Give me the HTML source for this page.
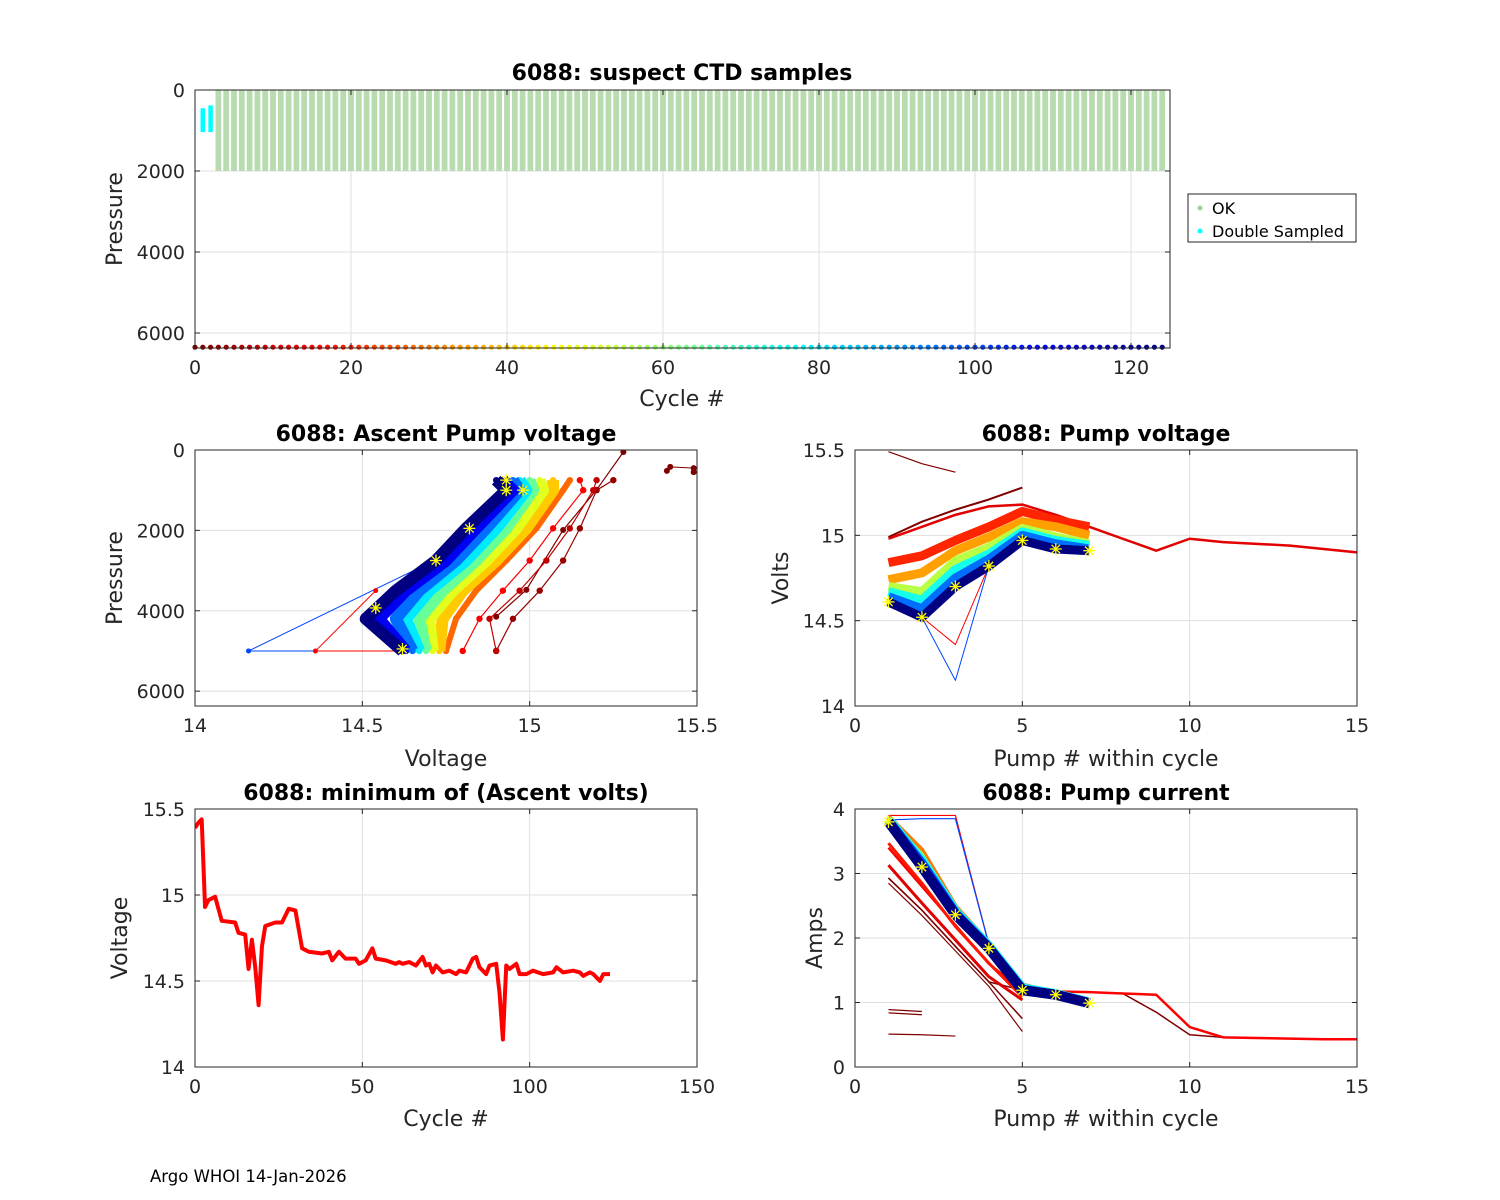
<!DOCTYPE html>
<html><head><meta charset="utf-8">
<style>
html,body{margin:0;padding:0;background:#fff;}
svg{display:block;font-family:"DejaVu Sans","Liberation Sans",sans-serif;}
</style></head>
<body>
<svg id="fig" width="1500" height="1200" xmlns="http://www.w3.org/2000/svg">
<rect width="1500" height="1200" fill="#fff"/>
<text x="150" y="1182" font-size="16.5" fill="#000">Argo WHOI 14-Jan-2026</text>
</svg>
<script>
// ---------- data ----------
const okCycles = Array.from({length:122},(_,i)=>i+3);
const okPmin = 0, okPmax = 2000;
const dsCycles = [1,2];
const dsPtop = [450,380];
const dsPbot = [1040,1040];
const allCycles = Array.from({length:125},(_,i)=>i);
// ascent pump voltage
const aPres = [5000,4200,3500,2750,1950,1000,750];
const aCycles = [3,8,15,28,40,50,65,80,95,110,124];
const aVolt = [
 [14.90,14.95,15.03,15.10,15.15,15.20,15.25],
 [14.90,14.88,14.97,15.05,15.12,15.19,15.20],
 [14.80,14.85,14.92,15.00,15.07,15.16,15.15],
 [14.75,14.78,14.84,14.93,15.02,15.10,15.12],
 [14.73,14.74,14.80,14.90,14.99,15.07,15.07],
 [14.71,14.70,14.77,14.87,14.96,15.04,15.03],
 [14.69,14.67,14.74,14.84,14.93,15.01,15.00],
 [14.67,14.63,14.70,14.81,14.90,14.99,14.97],
 [14.65,14.60,14.67,14.78,14.87,14.97,14.95],
 [14.63,14.55,14.63,14.75,14.84,14.95,14.92],
 [14.62,14.51,14.60,14.72,14.81,14.93,14.90]
];
const aEarlyPres = [4150,3480,1990,990,50];
const aEarlyVolt = [14.90,14.99,15.10,15.20,15.28];
const aIsoVolt = [15.41,15.42,15.49,15.49];
const aIsoPres = [520,420,450,550];
const aOutBlueVolt = [14.62,14.16,14.72];
const aOutBluePres = [5000,5000,2730];
const aOutRedVolt = [14.62,14.36,14.54];
const aOutRedPres = [5000,5000,3500];
const aStarVolt = [14.93,14.93,14.98,14.82,14.72,14.54,14.62];
const aStarPres = [750,1000,1000,1950,2750,3930,4950];
// pump voltage
const pvPump = [1,2,3,4,5,6,7];
const pvCycles = [20,35,55,75,95,124];
const pvVolt = [
 [14.84,14.88,14.97,15.05,15.14,15.09,15.05],
 [14.74,14.78,14.91,14.99,15.08,15.05,15.00],
 [14.70,14.67,14.85,14.93,15.04,14.99,14.95],
 [14.67,14.62,14.80,14.89,15.02,14.97,14.94],
 [14.64,14.57,14.75,14.86,15.00,14.95,14.92],
 [14.61,14.52,14.70,14.82,14.97,14.92,14.91]
];
const pvLongPump = [1,2,3,4,5,6,7,8,9,10,11,12,13,14,15];
const pvLongVolt = [14.98,15.05,15.12,15.17,15.18,15.12,15.05,14.98,14.91,14.98,14.96,14.95,14.94,14.92,14.90];
const pvDarkVolt = [14.99,15.08,15.15,15.21,15.28];
const pvTopVolt = [15.49,15.42,15.37];
const pvOutBlue = [14.61,14.52,14.15,14.82];
const pvOutRed = [14.61,14.52,14.36,14.82];
// pump current
const pcPump = [1,2,3,4,5,6,7];
const pcCycles = [30,50,75,100,124];
const pcAmps = [
 [3.88,3.36,2.49,1.92,1.27,1.15,1.02],
 [3.85,3.28,2.45,1.90,1.24,1.14,1.01],
 [3.83,3.20,2.41,1.87,1.22,1.13,1.00],
 [3.81,3.15,2.38,1.85,1.20,1.12,0.99],
 [3.80,3.10,2.36,1.84,1.19,1.12,0.99]
];
const pcRedA = [3.47,2.85,2.18,1.61,1.09];
const pcRedB = [3.13,2.54,1.97,1.40,1.04];
const pcDarkA = [2.93,2.43,1.87,1.32,0.75];
const pcDarkB = [2.85,2.35,1.80,1.25,0.55];
const pcLong = [3.40,2.80,2.20,1.60,1.19,1.17,1.16,1.14,1.12,0.62,0.46,0.45,0.44,0.43,0.43];
const pcLongDark = [2.93,2.43,1.87,1.32,1.19,1.17,1.16,1.14,0.85,0.50,0.46,0.45,0.44,0.43,0.43];
const pcOutRed = [3.90,3.90,3.90,1.90];
const pcOutBlue = [3.83,3.85,3.85,1.90];
const pcSegA = [0.89,0.86];
const pcSegB = [0.84,0.81];
const pcSegC = [0.51,0.50,0.48];
// minimum ascent volts
const mvCycle = [0,1,2,3,4,6,8,12,13,15,16,17,18,19,20,21,24,26,28,30,32,34,38,40,41,43,45,48,49,51,53,54,57,60,61,62,64,66,68,69,70,71,72,74,76,78,79,81,83,84,85,87,88,90,91,92,93,94,96,97,99,101,104,107,108,110,113,115,116,118,119,121,122,124];
const mvVolt = [15.39,15.42,15.44,14.93,14.97,14.99,14.85,14.84,14.78,14.77,14.57,14.74,14.58,14.36,14.70,14.82,14.84,14.84,14.92,14.91,14.69,14.67,14.66,14.67,14.62,14.67,14.63,14.63,14.60,14.62,14.69,14.63,14.62,14.60,14.61,14.60,14.61,14.59,14.64,14.59,14.60,14.55,14.59,14.55,14.56,14.54,14.56,14.55,14.63,14.64,14.58,14.54,14.59,14.60,14.43,14.16,14.59,14.57,14.60,14.54,14.54,14.56,14.54,14.55,14.58,14.55,14.56,14.55,14.53,14.55,14.54,14.50,14.54,14.54];

// ---------- helpers ----------
const NS="http://www.w3.org/2000/svg";
const fig=document.getElementById('fig');
function mk(tag,attrs,parent){const e=document.createElementNS(NS,tag);for(const k in attrs)e.setAttribute(k,attrs[k]);(parent||fig).appendChild(e);return e;}
function jet(c){const t=1-c/124;const f=v=>Math.round(255*Math.max(0,Math.min(1,v)));
 return `rgb(${f(1.5-Math.abs(4*t-3))},${f(1.5-Math.abs(4*t-2))},${f(1.5-Math.abs(4*t-1))})`;}
let clipId=0;
function axes(name,L,T,R,B,xl,yl,xt,yt,yRev){
 const ax={L,T,R,B,xl,yl,yRev};
 ax.x=v=>L+(v-xl[0])/(xl[1]-xl[0])*(R-L);
 ax.y=v=>yRev? T+(v-yl[0])/(yl[1]-yl[0])*(B-T) : B-(v-yl[0])/(yl[1]-yl[0])*(B-T);
 const g=mk('g',{});
 
 
 ax.g=g;
 const grid=mk('g',{stroke:'#dfdfdf','stroke-width':1},g);
 
 
 xt.forEach(v=>mk('line',{x1:ax.x(v),x2:ax.x(v),y1:T,y2:B},grid));
 yt.forEach(v=>mk('line',{x1:L,x2:R,y1:ax.y(v),y2:ax.y(v)},grid));
 const id='clip'+(clipId++);
 const cp=mk('clipPath',{id},g);mk('rect',{x:L,y:T,width:R-L,height:B-T},cp);
 ax.plot=mk('g',{'clip-path':`url(#${id})`},g);
 
 
 ax.fin=()=>{
  mk('rect',{x:L,y:T,width:R-L,height:B-T,fill:'none',stroke:'#262626','stroke-width':1},g);
  const tk=mk('g',{stroke:'#262626','stroke-width':1},g);
  xt.forEach(v=>{mk('line',{x1:ax.x(v),x2:ax.x(v),y1:B,y2:B-5},tk);mk('line',{x1:ax.x(v),x2:ax.x(v),y1:T,y2:T+5},tk);
   const t=mk('text',{x:ax.x(v),y:B+26,'font-size':19,'text-anchor':'middle',fill:'#262626'},g);t.textContent=String(v);
   
   });
  yt.forEach(v=>{mk('line',{x1:L,x2:L+5,y1:ax.y(v),y2:ax.y(v)},tk);mk('line',{x1:R,x2:R-5,y1:ax.y(v),y2:ax.y(v)},tk);
   const t=mk('text',{x:L-10,y:ax.y(v)+7,'font-size':19,'text-anchor':'end',fill:'#262626'},g);t.textContent=String(v);
   
   });
 };
 return ax;
}
function label(txt,x,y,opts,name){const t=mk('text',Object.assign({x,y,'font-size':22,'text-anchor':'middle',fill:'#262626'},opts||{}));t.textContent=txt;
 
 return t;}
function poly(ax,xs,ys,color,w,dot,name){
 const pts=xs.map((v,i)=>ax.x(v)+','+ax.y(ys[i])).join(' ');
 const p=mk('polyline',{points:pts,fill:'none',stroke:color,'stroke-width':w,'stroke-linejoin':'round'},ax.plot);
 
 
 if(dot){xs.forEach((v,i)=>{const c=mk('circle',{cx:ax.x(v),cy:ax.y(ys[i]),r:dot,fill:color},ax.plot);
  
  });}
 return p;
}
function stars(ax,xs,ys){xs.forEach((v,i)=>{const cx=ax.x(v),cy=ax.y(ys[i]),s=6;
 const g=mk('g',{stroke:'#ffff00','stroke-width':1.3},ax.plot);
 
 
 mk('line',{x1:cx-s,x2:cx+s,y1:cy,y2:cy},g);mk('line',{x1:cx,x2:cx,y1:cy-s,y2:cy+s},g);
 mk('line',{x1:cx-s*.7,x2:cx+s*.7,y1:cy-s*.7,y2:cy+s*.7},g);mk('line',{x1:cx-s*.7,x2:cx+s*.7,y1:cy+s*.7,y2:cy-s*.7},g);});}

// ---------- top chart ----------
const a1=axes('ctd-samples-chart',195,90,1170,348,[0,125],[0,6370],[0,20,40,60,80,100,120],[0,2000,4000,6000],true);
okCycles.forEach(c=>{const l=mk('line',{x1:a1.x(c),x2:a1.x(c),y1:a1.y(okPmin),y2:a1.y(okPmax),stroke:'#b8dbb0','stroke-width':5.8},a1.plot);
 
 });
dsCycles.forEach((c,i)=>{const l=mk('line',{x1:a1.x(c),x2:a1.x(c),y1:a1.y(dsPtop[i]),y2:a1.y(dsPbot[i]),stroke:'#00ffff','stroke-width':4.5},a1.plot);
 
 });
allCycles.forEach(c=>{const d=mk('circle',{cx:a1.x(c),cy:a1.y(6350),r:2.6,fill:jet(c)},a1.g);
 
 });
a1.fin();
label('6088: suspect CTD samples',682,80,{'font-weight':'bold',fill:'#000'},'ctd-chart-title');
label('Cycle #',682,406,{},'ctd-x-axis-title');
label('Pressure',122,219,{transform:'rotate(-90 122 219)'},'ctd-y-axis-title');
const lg=mk('g',{});


mk('rect',{x:1188,y:194,width:168,height:48,fill:'#fff',stroke:'#262626','stroke-width':1},lg);
mk('circle',{cx:1200,cy:208,r:2.5,fill:'#9fcf98'},lg);
mk('circle',{cx:1200,cy:231,r:2.5,fill:'#00ffff'},lg);
const le1=mk('text',{x:1212,y:214,'font-size':16,fill:'#000'},lg);le1.textContent='OK';


const le2=mk('text',{x:1212,y:237,'font-size':16,fill:'#000'},lg);le2.textContent='Double Sampled';



// ---------- ascent pump voltage ----------
const a2=axes('ascent-pump-voltage-chart',195,450,697,706,[14,15.5],[0,6370],[14,14.5,15,15.5],[0,2000,4000,6000],true);
poly(a2,aOutBlueVolt,aOutBluePres,jet(100),1,2.5,'outlier-blue');
poly(a2,aOutRedVolt,aOutRedPres,jet(15),1,2.5,'outlier-red');
poly(a2,aEarlyVolt,aEarlyPres,jet(0),1.2,3,'early-cycle-profile');
poly(a2,aIsoVolt,aIsoPres,jet(0),1,3,'isolated-early-points');
aCycles.forEach((c,i)=>{const w=c<20?1.2:(c<35?6:12);poly(a2,aVolt[i],aPres,jet(c),w,3.2,'profile-cycle-'+c);});
stars(a2,aStarVolt,aStarPres);
a2.fin();
label('6088: Ascent Pump voltage',446,441,{'font-weight':'bold',fill:'#000'},'ascent-chart-title');
label('Voltage',446,766,{},'ascent-x-axis-title');
label('Pressure',122,578,{transform:'rotate(-90 122 578)'},'ascent-y-axis-title');

// ---------- pump voltage ----------
const a3=axes('pump-voltage-chart',855,450,1357,706,[0,15],[14,15.5],[0,5,10,15],[14,14.5,15,15.5],false);
poly(a3,[1,2,3,4],pvOutBlue,jet(100),1,0,'outlier-blue');
poly(a3,[1,2,3,4],pvOutRed,jet(15),1,0,'outlier-red');
poly(a3,[1,2,3],pvTopVolt,jet(0),1.2,0,'early-top-line');
poly(a3,[1,2,3,4,5],pvDarkVolt,jet(0),2,0,'early-dark-line');
poly(a3,pvLongPump,pvLongVolt,jet(12),2.5,0,'long-cycle-line');
pvCycles.forEach((c,i)=>poly(a3,pvPump,pvVolt[i],jet(c),9,0,'pump-volt-cycle-'+c));
stars(a3,pvPump,pvVolt[pvVolt.length-1]);
a3.fin();
label('6088: Pump voltage',1106,441,{'font-weight':'bold',fill:'#000'},'pump-voltage-title');
label('Pump # within cycle',1106,766,{},'pump-voltage-x-axis-title');
label('Volts',788,578,{transform:'rotate(-90 788 578)'},'pump-voltage-y-axis-title');

// ---------- minimum ascent volts ----------
const a4=axes('min-ascent-volts-chart',195,809,697,1067,[0,150],[14,15.5],[0,50,100,150],[14,14.5,15,15.5],false);
poly(a4,mvCycle,mvVolt,'#ff0000',4,0,'min-volts-line');
a4.fin();
label('6088: minimum of (Ascent volts)',446,800,{'font-weight':'bold',fill:'#000'},'min-volts-title');
label('Cycle #',446,1126,{},'min-volts-x-axis-title');
label('Voltage',127,938,{transform:'rotate(-90 127 938)'},'min-volts-y-axis-title');

// ---------- pump current ----------
const a5=axes('pump-current-chart',855,809,1357,1067,[0,15],[0,4],[0,5,10,15],[0,1,2,3,4],false);
poly(a5,[1,2],pcSegA,jet(0),1.2,0,'short-segment');
poly(a5,[1,2],pcSegB,jet(0),1.2,0,'short-segment');
poly(a5,[1,2,3],pcSegC,jet(0),1.2,0,'short-segment');
poly(a5,[1,2,3,4],pcOutRed,'#ff0000',1.2,0,'outlier-red');
poly(a5,[1,2,3,4],pcOutBlue,jet(100),1.2,0,'outlier-blue');
poly(a5,pvLongPump,pcLongDark,jet(0),1.5,0,'long-cycle-dark');
poly(a5,pvLongPump,pcLong,'#ff0000',2.5,0,'long-cycle-line');
poly(a5,[1,2,3,4,5],pcDarkA,jet(0),1.5,0,'early-dark-a');
poly(a5,[1,2,3,4,5],pcDarkB,jet(0),1.2,0,'early-dark-b');
poly(a5,[1,2,3,4,5],pcRedB,jet(12),3,0,'red-line-b');
poly(a5,[1,2,3,4,5],pcRedA,jet(18),3,0,'red-line-a');
pcCycles.forEach((c,i)=>poly(a5,pcPump,pcAmps[i],jet(c),c<60?5:10,0,'pump-current-cycle-'+c));
stars(a5,pcPump,pcAmps[pcAmps.length-1]);
a5.fin();
label('6088: Pump current',1106,800,{'font-weight':'bold',fill:'#000'},'pump-current-title');
label('Pump # within cycle',1106,1126,{},'pump-current-x-axis-title');
label('Amps',822,938,{transform:'rotate(-90 822 938)'},'pump-current-y-axis-title');
</script>
</body></html>
